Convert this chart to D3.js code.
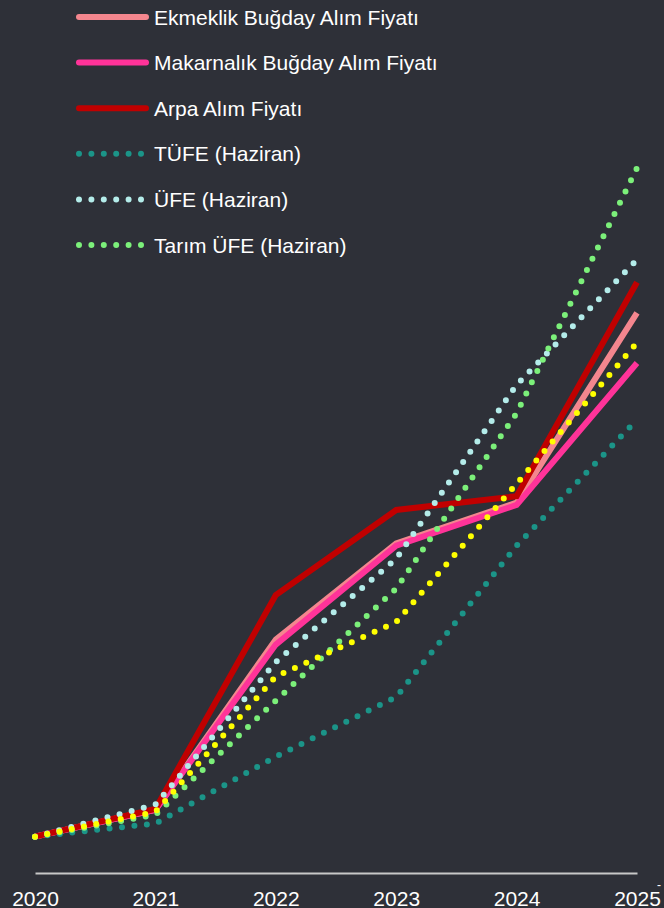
<!DOCTYPE html>
<html>
<head>
<meta charset="utf-8">
<script src="https://cdn.jsdelivr.net/npm/d3@7"></script>
<style>
  html, body { margin: 0; padding: 0; background: #2e3038; }
  svg { display: block; }
  text { font-family: "Liberation Sans", Arial, sans-serif; fill: #ffffff; }
</style>
</head>
<body>
<svg id="chart" width="664" height="908"></svg>
<script>
// ---- data (index, 2020 = 100) ----
const years = [2020, 2021, 2022, 2023, 2024, 2025];
const ekmeklik   = [100, 137, 371, 503, 559, 820];
const makarnalik = [100, 137, 364, 500, 556, 751];
const arpa       = [100, 138, 432, 549, 568, 862];
const tufe       = [100, 118, 210, 292, 500, 673];
const ufe        = [100, 144, 340, 482, 721, 893];
const tarimUfe   = [100, 130, 287, 441, 682, 1019];
const yellowSeries = [100, 134, 320, 395, 585, 779];
const tickLabels = ["2020", "2021", "2022", "2023", "2024", "2025"];

const seriesNames = [
  "Ekmeklik Buğday Alım Fiyatı",
  "Makarnalık Buğday Alım Fiyatı",
  "Arpa Alım Fiyatı",
  "TÜFE (Haziran)",
  "ÜFE (Haziran)",
  "Tarım ÜFE (Haziran)",
  ""
];
const seriesValues = [ekmeklik, makarnalik, arpa, tufe, ufe, tarimUfe, yellowSeries];
const seriesColors = ["#f4868e", "#ff3399", "#c00000", "#1b9488", "#b4ecea", "#7cf07a", "#ffff00"];
const seriesDotted = [false, false, false, true, true, true, true];
const inLegend = [true, true, true, true, true, true, false];

const svg = d3.select("#chart");
const W = 664, H = 908;
svg.append("rect").attr("width", W).attr("height", H).attr("fill", "#2e3038");

const x = d3.scaleLinear().domain([2020, 2025]).range([35, 637]);
const y = d3.scaleLinear().domain([50, 1250]).range([873, 0]);

// axis
const axis = d3.axisBottom(x)
  .tickValues(years)
  .tickFormat((d, i) => tickLabels[i])
  .tickSize(0)
  .tickSizeOuter(0)
  .tickPadding(18);
const gx = svg.append("g").attr("transform", `translate(0,${y(50)})`).call(axis);
gx.select(".domain").attr("stroke", "#c8c8c8").attr("stroke-width", 2);
gx.selectAll("text")
  .attr("fill", "#ffffff")
  .style("font-family", '"Liberation Sans", Arial, sans-serif')
  .style("font-size", "21px");

svg.append("text").attr("x", 657).attr("y", 889)
  .style("font-size", "12px").text("-");

const line = d3.line()
  .x((d, i) => x(years[i]))
  .y(d => y(d));

const series = seriesNames.map((n, i) => ({
  name: n, values: seriesValues[i], color: seriesColors[i], dotted: seriesDotted[i], legend: inLegend[i]
}));

const drawOrder = [0, 1, 2, 3, 4, 5, 6];
drawOrder.forEach(i => {
  const s = series[i];
  const p = svg.append("path")
    .datum(s.values)
    .attr("d", line)
    .attr("fill", "none")
    .attr("stroke", s.color)
    .attr("stroke-linecap", "round")
    .attr("stroke-linejoin", "miter");
  if (s.dotted) {
    p.attr("stroke-width", 6).attr("stroke-dasharray", "0,12.5");
  } else {
    p.attr("stroke-width", 6).attr("stroke-linecap", "butt");
  }
});

// legend
const legendY0 = 17, legendStep = 45.6;
const lg = svg.append("g");
series.filter(s => s.legend).forEach((s, k) => {
  const yy = legendY0 + k * legendStep;
  if (s.dotted) {
    lg.append("line").attr("x1", 79).attr("x2", 142).attr("y1", yy).attr("y2", yy)
      .attr("stroke", s.color).attr("stroke-width", 6)
      .attr("stroke-linecap", "round").attr("stroke-dasharray", "0,12.4");
  } else {
    lg.append("line").attr("x1", 79).attr("x2", 146).attr("y1", yy).attr("y2", yy)
      .attr("stroke", s.color).attr("stroke-width", 6)
      .attr("stroke-linecap", "round");
  }
  lg.append("text").attr("x", 154).attr("y", yy + 7.5)
    .style("font-size", "21px").text(s.name);
});
</script>
</body>
</html>
